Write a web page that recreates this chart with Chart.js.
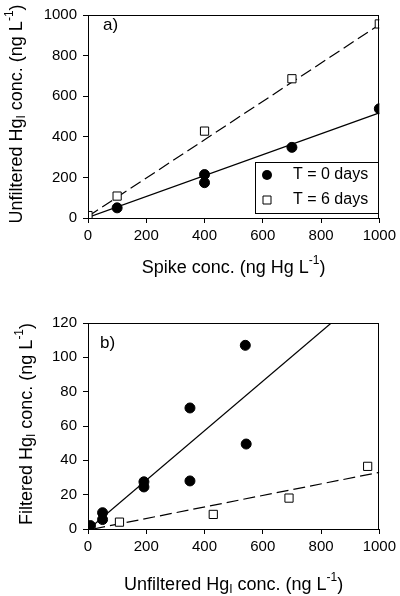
<!DOCTYPE html>
<html>
<head>
<meta charset="utf-8">
<script src="https://cdn.jsdelivr.net/npm/chart.js@4.4.1/dist/chart.umd.min.js"></script>
<style>
  body { margin: 0; background: #fff; }
  .box { position: absolute; left: 0; width: 400px; }
</style>
</head>
<body>
<div class="box" style="top:0;height:300px"><canvas id="chartA"></canvas></div>
<div class="box" style="top:300px;height:296px"><canvas id="chartB"></canvas></div>
<script>
// panel a) spike conc. vs unfiltered Hg
const spikeT0 = [100, 400, 400, 700, 1000];
const unfiltT0 = [50, 214, 174, 348, 538];
const spikeT6 = [0, 100, 400, 700, 1000];
const unfiltT6 = [12, 108, 428, 686, 956];
const fitA0x = [0, 1000], fitA0y = [3, 518];
const fitA6x = [0, 1000], fitA6y = [8, 952];

// panel b) unfiltered vs filtered Hg
const unfB0 = [8, 50, 50, 192, 192, 350, 350, 540, 543];
const filB0 = [2, 9.5, 5.5, 27.5, 24.5, 70.5, 28, 107, 49.5];
const unfB6 = [10, 108, 430, 690, 960];
const filB6 = [1, 4, 8.5, 18, 36.5];
const fitB0x = [3, 835], fitB0y = [0, 120];
const fitB6x = [18, 1000], fitB6y = [0, 33];

const xTicksA = [0, 200, 400, 600, 800, 1000];
const yTicksA = [0, 200, 400, 600, 800, 1000];
const xTicksB = [0, 200, 400, 600, 800, 1000];
const yTicksB = [0, 20, 40, 60, 80, 100, 120];

const legendLabels = ['T = 0 days', 'T = 6 days'];

const FONT = "'Liberation Sans', Arial, sans-serif";

function pts(xs, ys) {
    return xs.map((x, i) => ({ x: x, y: ys[i] }));
}

function pointSet(label, xs, ys, filled) {
    return {
        label: label,
        data: pts(xs, ys),
        pointStyle: filled ? 'circle' : 'rect',
        pointRadius: filled ? 5 : 5.8,
        pointHoverRadius: filled ? 5 : 5.8,
        backgroundColor: filled ? '#000' : '#fff',
        borderColor: '#000',
        borderWidth: 1,
        showLine: false,
        order: 1
    };
}

function fitLine(xs, ys, dashed) {
    return {
        label: 'fit',
        data: pts(xs, ys),
        showLine: true,
        pointRadius: 0,
        pointHoverRadius: 0,
        borderColor: '#000',
        borderWidth: 1.2,
        borderDash: dashed ? [12, 5] : [],
        fill: false,
        order: 2
    };
}

// rich text with sub / superscripts
function drawRich(ctx, parts, cx, cy, rotate) {
    const big = '18px ' + FONT, small = '12px ' + FONT;
    ctx.save();
    let w = 0;
    parts.forEach(p => {
        ctx.font = p[1] ? small : big;
        w += ctx.measureText(p[0]).width;
    });
    ctx.translate(cx, cy);
    if (rotate) ctx.rotate(-Math.PI / 2);
    ctx.fillStyle = '#000';
    ctx.textBaseline = 'middle';
    ctx.textAlign = 'left';
    let x = -w / 2;
    parts.forEach(p => {
        ctx.font = p[1] ? small : big;
        let dy = 0;
        if (p[1] === 'sup') dy = -7;
        if (p[1] === 'sub') dy = 5;
        ctx.fillText(p[0], x, dy);
        x += ctx.measureText(p[0]).width;
    });
    ctx.restore();
}

const decor = {
    id: 'decor',
    afterDraw(chart) {
        const ctx = chart.ctx, a = chart.chartArea, o = chart.options.plugins.decor;
        ctx.save();
        ctx.strokeStyle = '#000';
        ctx.lineWidth = 1;
        ctx.strokeRect(Math.round(a.left) + 0.5, Math.round(a.top) + 0.5,
            Math.round(a.right - a.left) - 1, Math.round(a.bottom - a.top));
        ctx.fillStyle = '#000';
        ctx.font = '17px ' + FONT;
        ctx.textBaseline = 'middle';
        ctx.fillText(o.panel, o.panelX, o.panelY);
        ctx.restore();
        drawRich(ctx, o.xTitle, (a.left + a.right) / 2, o.xTitleY, false);
        drawRich(ctx, o.yTitle, o.yTitleX, o.yTitleY, true);

        if (o.legend) {
            const L = o.legend;
            ctx.save();
            ctx.strokeStyle = '#000';
            ctx.lineWidth = 1;
            ctx.strokeRect(L.x + 0.5, L.y + 0.5, L.w, L.h);
            ctx.font = '16px ' + FONT;
            ctx.textBaseline = 'middle';
            legendLabels.forEach((t, i) => {
                const y = L.y + 13 + i * 25;
                ctx.beginPath();
                if (i === 0) {
                    ctx.arc(L.x + 12, y, 5, 0, Math.PI * 2);
                    ctx.fillStyle = '#000';
                    ctx.fill();
                } else {
                    ctx.fillStyle = '#fff';
                    ctx.rect(L.x + 8, y - 4, 8, 8);
                    ctx.fill();
                    ctx.stroke();
                }
                ctx.fillStyle = '#000';
                ctx.fillText(t, L.x + 38, y);
            });
            ctx.restore();
        }
    }
};

function axis(ticks, max, step, size, isX) {
    return {
        type: 'linear',
        min: 0,
        max: max,
        afterBuildTicks(s) { s.ticks = ticks.map(v => ({ value: v })); },
        afterFit(s) { if (isX) s.height = size; else s.width = size; },
        grid: { display: true, drawOnChartArea: false, drawTicks: true, tickLength: 5, color: '#000' },
        border: { display: true, color: '#000', width: 1 },
        ticks: {
            stepSize: step, color: '#000', padding: isX ? 4 : 6,
            font: { family: FONT, size: 15 },
            callback: v => String(v)
        }
    };
}

function makeChart(id, datasets, xs, ys, pad, decorOpts) {
    return new Chart(document.getElementById(id), {
        type: 'scatter',
        data: { datasets: datasets },
        options: {
            responsive: true,
            maintainAspectRatio: false,
            animation: false,
            layout: { padding: { top: pad.top, right: 20, left: 0, bottom: 0 } },
            plugins: { legend: { display: false }, tooltip: { enabled: false }, decor: decorOpts },
            scales: { x: xs, y: ys }
        },
        plugins: [decor]
    });
}

makeChart('chartA', [
    pointSet(legendLabels[0], spikeT0, unfiltT0, true),
    pointSet(legendLabels[1], spikeT6, unfiltT6, false),
    fitLine(fitA0x, fitA0y, false),
    fitLine(fitA6x, fitA6y, true)
], axis(xTicksA, 1000, 200, 82, true), axis(yTicksA, 1000, 200, 88, false), { top: 10 }, {
    panel: 'a)', panelX: 103, panelY: 25,
    xTitle: [['Spike conc. (ng Hg L', ''], ['-1', 'sup'], [')', '']], xTitleY: 268,
    yTitle: [['Unfiltered Hg', ''], ['I', 'sub'], [' conc. (ng L', ''], ['-1', 'sup'], [')', '']],
    yTitleX: 17, yTitleY: 114,
    legend: { x: 255, y: 162, w: 123, h: 51 }
});

makeChart('chartB', [
    pointSet(legendLabels[0], unfB0, filB0, true),
    pointSet(legendLabels[1], unfB6, filB6, false),
    fitLine(fitB0x, fitB0y, false),
    fitLine(fitB6x, fitB6y, true)
], axis(xTicksB, 1000, 200, 67, true), axis(yTicksB, 120, 20, 88, false), { top: 23 }, {
    panel: 'b)', panelX: 100, panelY: 43,
    xTitle: [['Unfiltered Hg', ''], ['I', 'sub'], [' conc. (ng L', ''], ['-1', 'sup'], [')', '']], xTitleY: 285,
    yTitle: [['Filtered Hg', ''], ['I', 'sub'], [' conc. (ng L', ''], ['-1', 'sup'], [')', '']],
    yTitleX: 27, yTitleY: 124
});
</script>
</body>
</html>
